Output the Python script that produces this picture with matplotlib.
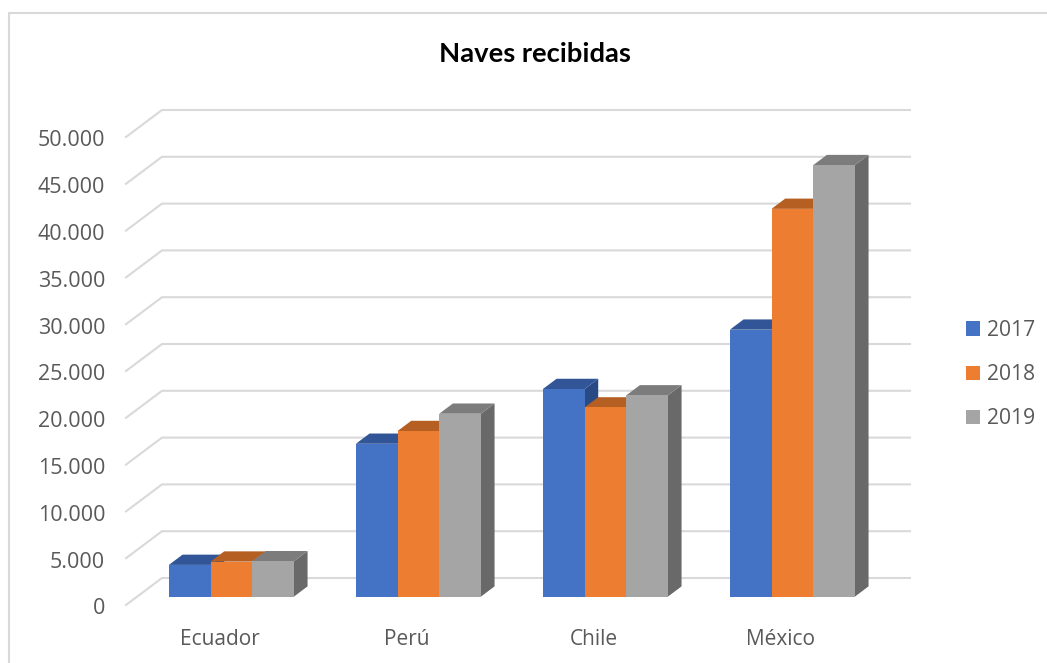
import matplotlib
matplotlib.use("Agg")
import matplotlib.pyplot as plt
from matplotlib.patches import Patch, Rectangle
from matplotlib.transforms import ScaledTranslation

# Vessel arrivals per country and year
paises = ["Ecuador", "Perú", "Chile", "México"]
anios = ["2017", "2018", "2019"]
naves_2017 = [3390, 16330, 22180, 28520]
naves_2018 = [3740, 17690, 20210, 41430]
naves_2019 = [3780, 19540, 21500, 46100]
eje_y = [0, 5000, 10000, 15000, 20000, 25000, 30000, 35000, 40000, 45000, 50000]
etiquetas_y = ["0", "5.000", "10.000", "15.000", "20.000", "25.000", "30.000",
               "35.000", "40.000", "45.000", "50.000"]

W, H = 1047, 663
FUENTE = "Open Sans"
TEXTO = "#595959"
GRID = "#D9D9D9"
frente = ["#4472C4", "#ED7D31", "#A5A5A5"]
techo = ["#325597", "#B65F22", "#7C7C7C"]
lado = ["#2A4A85", "#9C5220", "#696969"]

fig = plt.figure(figsize=(W / 100, H / 100), dpi=100, facecolor="white")
# Front plane of the 3-D box: 126..874 px wide, value 0 at y=605, 50.000 at y=137
ax = fig.add_axes([126 / W, 1 - 605 / H, 748 / W, 468 / H])
ax.set_xlim(-0.5, 3.5)
ax.set_ylim(0, 50000)
ax.patch.set_visible(False)
for s in ax.spines.values():
    s.set_visible(False)

# Depth of the box, expressed in axis units
DX = 36 / 187
DY = 27 / 468 * 50000
ANCHO = 125 / 3 / 187
P0, P1 = 0.31, 0.69   # front and back faces of the bars along the depth


def proy(x, y, p):
    return x + p * DX, y + p * DY


# Gridlines: short diagonal on the side wall, then along the back wall
for v in eje_y:
    xa, ya = proy(-0.5, v, 0)
    xb, yb = proy(-0.5, v, 1)
    xc = 3.5 + DX
    ax.plot([xa, xb, xc], [ya, yb, yb], color=GRID, lw=1.5, clip_on=False,
            solid_joinstyle="miter", zorder=1)

# Bars: side, top and front face, drawn left to right so each hides the last side
series = [naves_2017, naves_2018, naves_2019]
for i in range(len(paises)):
    for j, serie in enumerate(series):
        v = serie[i]
        x0 = i - 1.5 * ANCHO + j * ANCHO + 0.02 * DX
        x1 = x0 + ANCHO
        z = 2 + i + j * 0.1
        pts_lado = [proy(x1, 0, P0), proy(x1, 0, P1), proy(x1, v, P1), proy(x1, v, P0)]
        pts_techo = [proy(x0, v, P0), proy(x1, v, P0), proy(x1, v, P1), proy(x0, v, P1)]
        pts_frente = [proy(x0, 0, P0), proy(x1, 0, P0), proy(x1, v, P0), proy(x0, v, P0)]
        for pts, c in ((pts_lado, lado[j]), (pts_techo, techo[j]), (pts_frente, frente[j])):
            xs, ys = zip(*pts)
            ax.fill(xs, ys, color=c, lw=0, clip_on=False, zorder=z)

ax.set_xticks(range(len(paises)), paises, fontfamily=FUENTE, fontsize=15, color=TEXTO)
ax.set_yticks(eje_y, etiquetas_y, fontfamily=FUENTE, fontsize=15.5, color=TEXTO)
ax.tick_params(axis="both", length=0)
ax.tick_params(axis="x", pad=17)
ax.tick_params(axis="y", pad=15)
# Value labels sit a touch below their gridline ends
bajada = ScaledTranslation(0, -1.5 / 100, fig.dpi_scale_trans)
for etiqueta in ax.get_yticklabels():
    etiqueta.set_transform(etiqueta.get_transform() + bajada)

fig.text(535 / W, 1 - 54 / H, "Naves recibidas", ha="center", va="center",
         fontfamily="Lato", fontweight="bold", fontsize=19.7, color="black")

mangos = [Patch(facecolor=c, lw=0, label=a) for c, a in zip(frente, anios)]
fig.legend(handles=mangos, loc="upper left", bbox_to_anchor=(966 / W, 1 - 320 / H),
           frameon=False, prop={"family": FUENTE, "size": 15.2}, labelcolor=TEXTO,
           handlelength=0.68, handleheight=0.68, handletextpad=0.3, labelspacing=1.1,
           borderpad=0, borderaxespad=0)

# Chart frame: only its top and left edges fall inside the image
fig.add_artist(Rectangle((9 / W, 1 - 700 / H), 1100 / W, 687 / H, transform=fig.transFigure,
                         fill=False, edgecolor=GRID, lw=1.5))

fig.savefig("out.png", dpi=100)
